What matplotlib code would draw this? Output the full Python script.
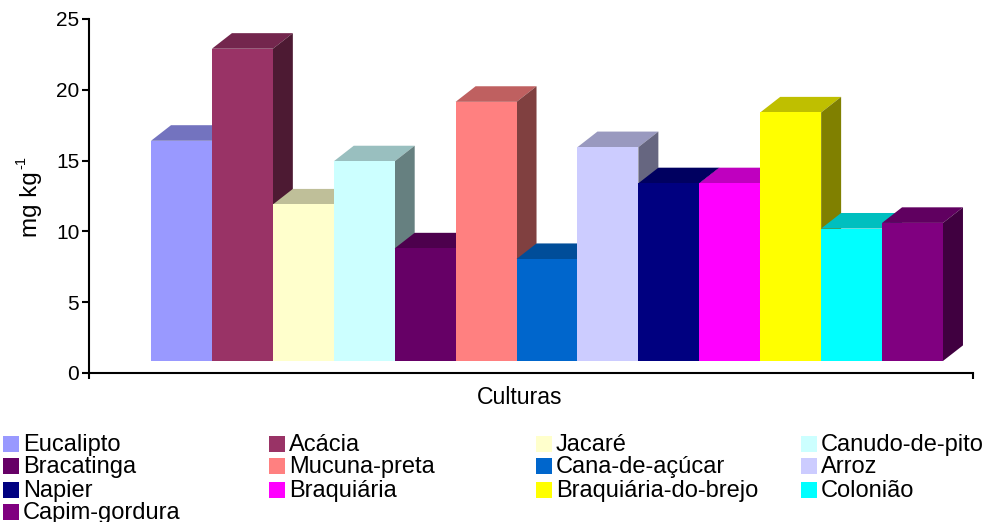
import matplotlib
matplotlib.use('Agg')
import matplotlib.pyplot as plt
from matplotlib.patches import Rectangle
from matplotlib.colors import to_rgb

plt.rcParams['font.family'] = ['Liberation Sans', 'DejaVu Sans']

culturas = ['Eucalipto', 'Acácia', 'Jacaré', 'Canudo-de-pito', 'Bracatinga', 'Mucuna-preta',
            'Cana-de-açúcar', 'Arroz', 'Napier', 'Braquiária', 'Braquiária-do-brejo',
            'Colonião', 'Capim-gordura']
valores = [16.4, 22.9, 11.9, 14.95, 8.8, 19.15, 8.05, 15.95, 13.4, 13.4, 18.4, 10.2, 10.6]
cores = ['#9999FF', '#993366', '#FFFFCC', '#CCFFFF', '#660066', '#FF8080', '#0066CC',
         '#CCCCFF', '#000080', '#FF00FF', '#FFFF00', '#00FFFF', '#800080']
y_ticks = [0, 5, 10, 15, 20, 25]

W, H = 985, 522
fig = plt.figure(figsize=(W / 100, H / 100), dpi=100, facecolor='white')
ax = fig.add_axes([89 / W, 1 - 373 / H, (973 - 89) / W, (373 - 19) / H])

# piso e profundidade do efeito 3D
base = 0.85
dx = 0.328
dy = 1.1


def escurece(cor, f):
    return tuple(c * f for c in to_rgb(cor))


# da esquerda para a direita, cada barra cobre a lateral da anterior
for i, (v, cor) in enumerate(zip(valores, cores)):
    x0, x1 = i - 0.5, i + 0.5
    ax.fill([x0, x0 + dx, x1 + dx, x1], [v, v + dy, v + dy, v],
            color=escurece(cor, 0.75), lw=0, zorder=2 + i)
    ax.fill([x1, x1 + dx, x1 + dx, x1], [base, base + dy, v + dy, v],
            color=escurece(cor, 0.5), lw=0, zorder=2 + i)
    ax.bar(i, v - base, bottom=base, width=1, color=cor, lw=0, zorder=2 + i)

ax.set_xlim(-0.5 - 62 / 60.9, 12.5 + 30 / 60.9)
ax.set_ylim(0, 25)
ax.spines['top'].set_visible(False)
ax.spines['right'].set_visible(False)
ax.spines['left'].set_linewidth(1.5)
ax.spines['bottom'].set_linewidth(1.5)
ax.set_yticks(y_ticks)
ax.set_xticks(ax.get_xlim())
ax.set_xticklabels([])
ax.tick_params(axis='y', length=5, width=1.5, labelsize=15, pad=2, colors='black')
ax.tick_params(axis='x', length=4.5, width=1.5)

fig.text(520 / W, 1 - 397 / H, 'Culturas', fontsize=16.6, ha='center', va='center')

# rotulo do eixo y, o expoente com hifen como no original
fig.text(37 / W, 1 - 237 / H, 'mg kg', fontsize=17.4, rotation=90, rotation_mode='anchor',
         ha='left', va='baseline')
fig.text(25 / W, 1 - 169 / H, '-1', fontsize=10.5, rotation=90, rotation_mode='anchor',
         ha='left', va='baseline')

# legenda em quatro colunas
col_x = [3, 269, 536, 801]
lin_y = [444, 466, 490, 512]
for i, (nome, cor) in enumerate(zip(culturas, cores)):
    sx = col_x[i % 4]
    sy = lin_y[i // 4]
    fig.add_artist(Rectangle((sx / W, 1 - (sy + 8) / H), 16 / W, 16 / H,
                             transform=fig.transFigure, facecolor=cor, lw=0))
    fig.text((sx + 20) / W, 1 - (sy + 7) / H, nome, fontsize=17, ha='left', va='baseline')

fig.savefig('out.png', dpi=100, facecolor='white')
